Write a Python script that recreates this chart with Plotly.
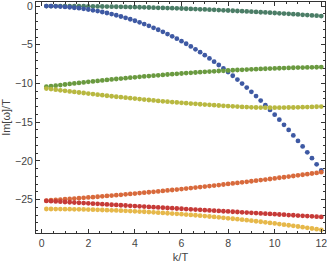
import plotly.graph_objects as go

k = [round(0.2 * i, 1) for i in range(1, 61)]

teal = [-0.00, -0.00, -0.00, -0.01, -0.01, -0.01, -0.02, -0.02, -0.03, -0.04,
        -0.04, -0.05, -0.06, -0.07, -0.08, -0.09, -0.10, -0.12, -0.13, -0.14,
        -0.16, -0.17, -0.19, -0.21, -0.23, -0.24, -0.26, -0.28, -0.30, -0.32,
        -0.35, -0.37, -0.39, -0.42, -0.44, -0.47, -0.49, -0.52, -0.55, -0.58,
        -0.61, -0.64, -0.67, -0.70, -0.73, -0.76, -0.80, -0.83, -0.86, -0.90,
        -0.94, -0.97, -1.01, -1.05, -1.09, -1.13, -1.17, -1.21, -1.25, -1.30]

blue = [-0.00, -0.02, -0.04, -0.07, -0.11, -0.16, -0.22, -0.28, -0.36, -0.45,
        -0.55, -0.65, -0.77, -0.90, -1.04, -1.19, -1.35, -1.52, -1.71, -1.90,
        -2.11, -2.33, -2.56, -2.81, -3.06, -3.33, -3.62, -3.91, -4.22, -4.54,
        -4.87, -5.22, -5.59, -5.96, -6.35, -6.76, -7.18, -7.61, -8.06, -8.52,
        -9.00, -9.50, -10.01, -10.53, -11.08, -11.63, -12.21, -12.80, -13.41, -14.03,
        -14.67, -15.33, -16.00, -16.70, -17.41, -18.13, -18.88, -19.64, -20.43, -21.23]

green = [-10.42, -10.35, -10.28, -10.20, -10.13, -10.06, -9.99, -9.93, -9.86, -9.79,
         -9.73, -9.67, -9.60, -9.54, -9.48, -9.42, -9.36, -9.31, -9.25, -9.20,
         -9.14, -9.09, -9.04, -8.99, -8.94, -8.89, -8.84, -8.80, -8.75, -8.71,
         -8.66, -8.62, -8.58, -8.54, -8.50, -8.46, -8.43, -8.39, -8.36, -8.32,
         -8.29, -8.26, -8.23, -8.20, -8.17, -8.15, -8.12, -8.10, -8.07, -8.05,
         -8.03, -8.01, -7.99, -7.97, -7.95, -7.94, -7.92, -7.91, -7.90, -7.88]

olive = [-10.65, -10.72, -10.80, -10.88, -10.95, -11.02, -11.09, -11.16, -11.23, -11.30,
         -11.37, -11.44, -11.51, -11.58, -11.65, -11.71, -11.77, -11.83, -11.89, -11.95,
         -12.01, -12.07, -12.13, -12.19, -12.25, -12.30, -12.35, -12.40, -12.45, -12.50,
         -12.54, -12.59, -12.63, -12.68, -12.72, -12.76, -12.80, -12.84, -12.88, -12.92,
         -12.95, -12.98, -13.02, -13.05, -13.08, -13.10, -13.11, -13.12, -13.12, -13.12,
         -13.12, -13.11, -13.10, -13.10, -13.08, -13.06, -13.04, -13.02, -13.00, -12.98]

orange = [-25.11, -25.07, -25.03, -24.98, -24.94, -24.90, -24.85, -24.81, -24.76, -24.71,
          -24.67, -24.62, -24.57, -24.52, -24.47, -24.42, -24.37, -24.31, -24.26, -24.21,
          -24.15, -24.10, -24.04, -23.98, -23.93, -23.87, -23.81, -23.75, -23.69, -23.63,
          -23.56, -23.50, -23.44, -23.37, -23.31, -23.24, -23.18, -23.11, -23.04, -22.97,
          -22.90, -22.83, -22.76, -22.69, -22.62, -22.55, -22.47, -22.40, -22.33, -22.25,
          -22.17, -22.10, -22.02, -21.94, -21.86, -21.78, -21.70, -21.62, -21.54, -21.45]

red = [-25.16, -25.19, -25.23, -25.26, -25.30, -25.33, -25.37, -25.40, -25.44, -25.47,
       -25.51, -25.54, -25.58, -25.61, -25.65, -25.68, -25.72, -25.75, -25.79, -25.82,
       -25.86, -25.89, -25.93, -25.96, -26.00, -26.03, -26.07, -26.10, -26.14, -26.17,
       -26.21, -26.24, -26.28, -26.31, -26.35, -26.38, -26.42, -26.45, -26.49, -26.52,
       -26.56, -26.59, -26.63, -26.66, -26.70, -26.73, -26.77, -26.80, -26.84, -26.87,
       -26.91, -26.94, -26.98, -27.01, -27.05, -27.08, -27.12, -27.15, -27.19, -27.22]

yellow = [-26.20, -26.20, -26.21, -26.21, -26.22, -26.23, -26.24, -26.25, -26.26, -26.27,
          -26.29, -26.31, -26.33, -26.35, -26.37, -26.39, -26.42, -26.44, -26.47, -26.50,
          -26.53, -26.56, -26.60, -26.63, -26.67, -26.71, -26.75, -26.79, -26.83, -26.87,
          -26.92, -26.97, -27.01, -27.06, -27.12, -27.17, -27.22, -27.28, -27.34, -27.40,
          -27.46, -27.52, -27.58, -27.65, -27.71, -27.78, -27.85, -27.92, -28.00, -28.07,
          -28.15, -28.22, -28.30, -28.38, -28.46, -28.55, -28.63, -28.72, -28.80, -28.89]

x_ticks = [0, 2, 4, 6, 8, 10, 12]
y_ticks = [0, -5, -10, -15, -20, -25]
y_tick_text = ["0", "\u22125", "\u221210", "\u221215", "\u221220", "\u221225"]

series = [
    (teal, "#4b7d66"),
    (blue, "#3e59a3"),
    (green, "#6a9a40"),
    (olive, "#b8b840"),
    (orange, "#d86a3c"),
    (red, "#c63a37"),
    (yellow, "#e6b84a"),
]

fig = go.Figure()
for vals, col in series:
    fig.add_trace(go.Scatter(x=k, y=vals, mode="markers",
                             marker=dict(size=4.8, color=col, line=dict(width=0)),
                             showlegend=False, hoverinfo="skip", cliponaxis=False))

font_main = "Liberation Sans, Arial"
axis_common = dict(
    showline=True, linecolor="#333", linewidth=1, mirror="allticks",
    ticks="inside", ticklen=4, tickcolor="#333", tickwidth=1,
    showgrid=False, zeroline=False, automargin=False,
    ticklabeloverflow="allow",
    tickfont=dict(family=font_main, size=10.5, color="#444"),
)

fig.update_xaxes(range=[-0.245, 12.16], tickvals=x_ticks,
                 minor=dict(ticks="inside", dtick=0.5, tick0=0, ticklen=2.2,
                            tickcolor="#333", tickwidth=1),
                 title=dict(text="k/T", font=dict(family=font_main, size=11, color="#444"),
                            standoff=9),
                 **axis_common)
fig.update_yaxes(range=[-29.3, 0.52], tickvals=y_ticks, ticktext=y_tick_text,
                 minor=dict(ticks="inside", dtick=1, tick0=0, ticklen=2.2,
                            tickcolor="#333", tickwidth=1),
                 title=dict(text="Im[\u03c9]/T", font=dict(family=font_main, size=11, color="#444"),
                            standoff=2),
                 **axis_common)

fig.update_layout(width=327, height=263, margin=dict(l=36, r=2, t=2, b=30, autoexpand=False),
                  paper_bgcolor="white", plot_bgcolor="white")

fig.write_html("out.html", config={"displayModeBar": False, "staticPlot": True},
               post_script="document.body.style.margin='0';document.body.style.overflow='hidden';")
